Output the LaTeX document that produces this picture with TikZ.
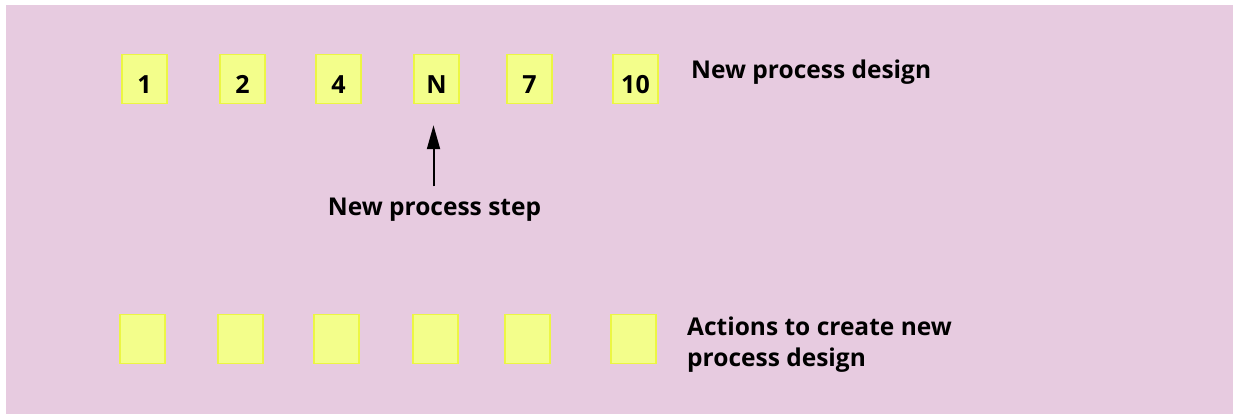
\documentclass[tikz,border=0pt]{standalone}
\usepackage{fontspec}
\setmainfont{Open Sans}
\usetikzlibrary{arrows.meta}
\definecolor{bgpink}{RGB}{231,203,224}
\definecolor{boxfill}{RGB}{243,254,139}
\definecolor{boxline}{RGB}{236,246,67}
\tikzset{
  stepbox/.style={draw=boxline,fill=boxfill,line width=1.5pt,inner sep=0pt,
    minimum width=45pt,minimum height=49pt,text height=28.5pt,text depth=0pt,
    font=\bfseries\fontsize{25}{30}\selectfont},
  caption/.style={inner sep=0pt,font=\bfseries\fontsize{24.5}{30.5}\selectfont}
}
\begin{document}
\begin{tikzpicture}[x=1pt,y=-1pt]
  \useasboundingbox (0,0) rectangle (1233,414);
  \fill[bgpink] (6,5) rectangle (1233,414);
  % new design
  \node[stepbox] (b1) at (144.5,79) {1};
  \node[stepbox] (b2) at (242.5,79) {2};
  \node[stepbox] (b4) at (338.5,79) {4};
  \node[stepbox] (bN) at (436.5,79) {N};
  \node[stepbox] (b7) at (529.5,79) {7};
  \node[stepbox] (b10) at (635.5,79) {10};
  \node[caption,anchor=base west] (design) at (691,79) {New process design};
  % the new step
  \node[caption,anchor=base] (newstep) at (434.5,215) {New process step};
  \draw[line width=2pt,-{Triangle[length=24pt,width=13pt]}] ([xshift=-1pt,yshift=11pt]newstep.north) -- ([xshift=-1pt,yshift=-21pt]newstep.north |- bN.south);
  % actions
  \foreach \n/\x in {1/142.5,2/240.5,3/336.5,4/435.5,5/527.5,6/633.5}
    \node[stepbox] (a\n) at (\x,339) {};
  \node[caption,anchor=north west,align=left] (actions) at (687,317) {Actions to create new\\process design};
\end{tikzpicture}
\end{document}
